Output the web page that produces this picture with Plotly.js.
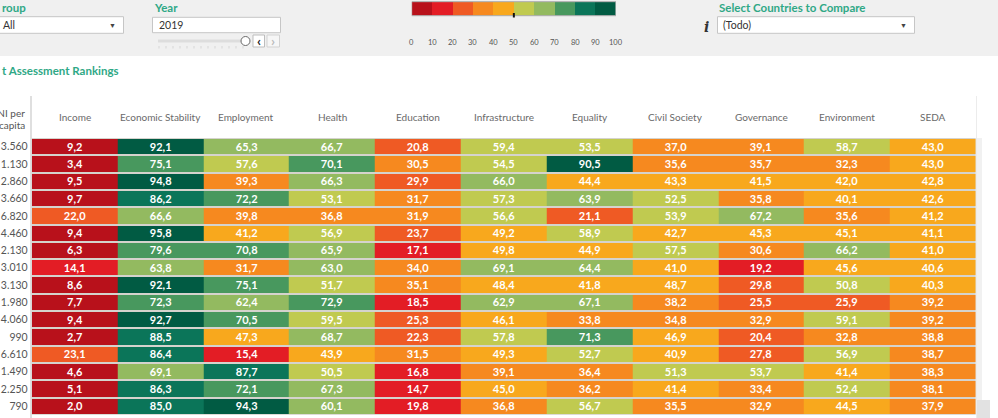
<!DOCTYPE html>
<html>
<head>
<meta charset="utf-8">
<script src="https://cdn.plot.ly/plotly-3.0.1.min.js"></script>
<style>
  html, body { margin: 0; padding: 0; background: #ffffff; }
  #chart { width: 998px; height: 418px; }
</style>
</head>
<body>
<div id="chart"></div>
<script>
// ---------------- DATA ----------------
const categories = ['Income', 'Economic Stability', 'Employment', 'Health', 'Education',
  'Infrastructure', 'Equality', 'Civil Society', 'Governance', 'Environment', 'SEDA'];

const gniPerCapita = [3560, 1130, 2860, 3660, 6820, 4460, 2130, 3010, 3130, 1980, 4060, 990, 6610, 1490, 2250, 790];

const income            = [9.2, 3.4, 9.5, 9.7, 22.0, 9.4, 6.3, 14.1, 8.6, 7.7, 9.4, 2.7, 23.1, 4.6, 5.1, 2.0];
const economicStability = [92.1, 75.1, 94.8, 86.2, 66.6, 95.8, 79.6, 63.8, 92.1, 72.3, 92.7, 88.5, 86.4, 69.1, 86.3, 85.0];
const employment        = [65.3, 57.6, 39.3, 72.2, 39.8, 41.2, 70.8, 31.7, 75.1, 62.4, 70.5, 47.3, 15.4, 87.7, 72.1, 94.3];
const health            = [66.7, 70.1, 66.3, 53.1, 36.8, 56.9, 65.9, 63.0, 51.7, 72.9, 59.5, 68.7, 43.9, 50.5, 67.3, 60.1];
const education         = [20.8, 30.5, 29.9, 31.7, 31.9, 23.7, 17.1, 34.0, 35.1, 18.5, 25.3, 22.3, 31.5, 16.8, 14.7, 19.8];
const infrastructure    = [59.4, 54.5, 66.0, 57.3, 56.6, 49.2, 49.8, 69.1, 48.4, 62.9, 46.1, 57.8, 49.3, 39.1, 45.0, 36.8];
const equality          = [53.5, 90.5, 44.4, 63.9, 21.1, 58.9, 44.9, 64.4, 41.8, 67.1, 33.8, 71.3, 52.7, 36.4, 36.2, 56.7];
const civilSociety      = [37.0, 35.6, 43.3, 52.5, 53.9, 42.7, 57.5, 41.0, 48.7, 38.2, 34.8, 46.9, 40.9, 51.3, 41.4, 35.5];
const governance        = [39.1, 35.7, 41.5, 35.8, 67.2, 45.3, 30.6, 19.2, 29.8, 25.5, 32.9, 20.4, 27.8, 53.7, 33.4, 32.9];
const environment       = [58.7, 32.3, 42.0, 40.1, 35.6, 45.1, 66.2, 45.6, 50.8, 25.9, 59.1, 32.8, 56.9, 41.4, 52.4, 44.5];
const seda              = [43.0, 43.0, 42.8, 42.6, 41.2, 41.1, 41.0, 40.6, 40.3, 39.2, 39.2, 38.8, 38.7, 38.3, 38.1, 37.9];

const legendTicks = [0, 10, 20, 30, 40, 50, 60, 70, 80, 90, 100];
const binColors = ['#b8111b', '#e31d25', '#ef5a24', '#f6891f', '#f8a81d',
  '#c0ca50', '#93ba60', '#48985e', '#0b7559', '#015b43'];

// ---------------- BUILD ----------------
const columns = [income, economicStability, employment, health, education,
  infrastructure, equality, civilSociety, governance, environment, seda];
const rowIdx = gniPerCapita.map((_, i) => i);
const z = rowIdx.map(r => columns.map(c => c[r]));

const colorscale = [];
binColors.forEach((c, i) => {
  colorscale.push([i / binColors.length, c]);
  colorscale.push([(i + 1) / binColors.length, c]);
});

const W = 998, H = 418;
const px = x => x / W;
const py = y => 1 - y / H;

const FONT = 'Lato, "Open Sans", sans-serif';
const TEAL = '#2fa886';

const fmtGni = v => v.toLocaleString('de-DE');

const mainHeat = {
  type: 'heatmap',
  x: categories,
  y: rowIdx,
  z: z,
  zmin: 0, zmax: 100,
  colorscale: colorscale,
  showscale: false,
  ygap: 2,
  xgap: 0,
  texttemplate: '<b>%{z:.1f}</b>',
  textfont: { family: FONT, size: 11, color: '#ffffff' },
  hoverinfo: 'skip',
  xaxis: 'x', yaxis: 'y'
};

const binCenters = legendTicks.slice(0, -1).map((t, i) => (t + legendTicks[i + 1]) / 2);
const legendHeat = {
  type: 'heatmap',
  x: binCenters,
  y: [0],
  z: [binCenters],
  zmin: 0, zmax: 100,
  colorscale: colorscale,
  showscale: false,
  hoverinfo: 'skip',
  xaxis: 'x2', yaxis: 'y2'
};

const shapes = [];
const annotations = [];
const rect = (x0, y0, x1, y1, fill, line, lw) => shapes.push({
  type: 'rect', xref: 'paper', yref: 'paper',
  x0: px(x0), x1: px(x1), y0: py(y1), y1: py(y0),
  fillcolor: fill, line: { color: line || 'rgba(0,0,0,0)', width: lw === undefined ? 1 : lw },
  layer: 'below'
});
const line = (x0, y0, x1, y1, color, w) => shapes.push({
  type: 'line', xref: 'paper', yref: 'paper',
  x0: px(x0), x1: px(x1), y0: py(y0), y1: py(y1),
  line: { color: color, width: w }
});
const text = (t, x, y, opts) => annotations.push(Object.assign({
  text: t, xref: 'paper', yref: 'paper', x: px(x), y: py(y),
  xanchor: 'left', yanchor: 'middle', showarrow: false,
  font: { family: FONT, size: 10.5, color: '#333333' }
}, opts || {}));

// top control panel
rect(0, 0, 998, 56, '#f0f0f0', null, 0);
rect(-2, 16.7, 123.5, 33.3, '#ffffff', '#c6c6c6', 1);
rect(152.5, 17.3, 280.5, 32.7, '#ffffff', '#c6c6c6', 1);
rect(717.5, 16.7, 914.5, 33.3, '#ffffff', '#c6c6c6', 1);
line(158, 41, 242, 41, '#dddddd', 3);
for (let k = 0; k < 13; k++) line(159 + 7 * k, 46, 159 + 7 * k, 48.5, '#d6d6d6', 1);
shapes.push({ type: 'circle', xref: 'paper', yref: 'paper',
  x0: px(241), x1: px(250), y0: py(45.5), y1: py(36.5),
  fillcolor: '#ffffff', line: { color: '#6a6a6a', width: 1 } });
shapes.push({ type: 'rect', xref: 'paper', yref: 'paper',
  x0: px(253), x1: px(264.5), y0: py(47), y1: py(35),
  fillcolor: '#ffffff', line: { color: '#bdbdbd', width: 1 } });
shapes.push({ type: 'rect', xref: 'paper', yref: 'paper',
  x0: px(267), x1: px(279.5), y0: py(47), y1: py(35),
  fillcolor: '#f6f6f6', line: { color: '#d2d2d2', width: 1 } });

// legend bar frame and marker
shapes.push({ type: 'rect', xref: 'x2', yref: 'y2 domain', x0: 0, x1: 100, y0: 0, y1: 1,
  line: { color: '#a9a9a9', width: 1 }, fillcolor: 'rgba(0,0,0,0)' });
shapes.push({ type: 'line', xref: 'x2', yref: 'paper', x0: 50, x1: 50, y0: py(17.5), y1: py(13),
  line: { color: '#111111', width: 2 } });

// table frame lines
line(31, 96, 31, 418, '#d4d4d4', 1.5);
line(976.5, 96, 976.5, 418, '#ececec', 1);
rect(977, 138, 982, 400, '#f1f1f1', null, 0);
rect(977, 400, 990, 418, '#e2e2e2', null, 0);

// texts of the top panel
const titleFont = { family: FONT, size: 11.5, color: TEAL, weight: 'bold' };
text('roup', 0, 7.5, { font: titleFont });
text('All', 1, 25);
text('▼', 112, 24.5, { xanchor: 'center', font: { family: FONT, size: 7, color: '#444444' } });
text('Year', 152, 7.5, { font: titleFont });
text('2019', 156.5, 25);
text('‹', 258.7, 40.5, { xanchor: 'center', font: { family: FONT, size: 14, color: '#222222', weight: 'bold' } });
text('›', 273.2, 40.5, { xanchor: 'center', font: { family: FONT, size: 14, color: '#bbbbbb', weight: 'bold' } });
text('Select Countries to Compare', 716.5, 7, { font: titleFont });
text('i', 706.5, 27.5, { xanchor: 'center', font: { family: '"DejaVu Serif", serif', size: 14, color: '#333333', weight: 'bold', style: 'italic' } });
text('(Todo)', 721, 25);
text('▼', 903, 24.5, { xanchor: 'center', font: { family: FONT, size: 7, color: '#444444' } });

legendTicks.forEach(t => annotations.push({
  text: String(t), xref: 'x2', yref: 'paper', x: t, y: py(42.3),
  xanchor: 'center', yanchor: 'middle', showarrow: false,
  font: { family: FONT, size: 7.5, color: '#555555' }
}));

// table title and headers
text('t Assessment Rankings', 0, 70.7, { font: titleFont });
text('GNI per', 27, 113, { xanchor: 'right', font: { family: FONT, size: 10, color: '#555555' } });
text('capita', 27, 124.5, { xanchor: 'right', font: { family: FONT, size: 10, color: '#555555' } });
categories.forEach(c => annotations.push({
  text: c, xref: 'x', yref: 'paper', x: c, y: py(116.7),
  xanchor: 'center', yanchor: 'middle', showarrow: false,
  font: { family: FONT, size: 10, color: '#6a6a6a' }
}));

const layout = {
  width: W, height: H,
  margin: { l: 0, r: 0, t: 0, b: 0, pad: 0 },
  paper_bgcolor: '#ffffff',
  plot_bgcolor: '#d5d3cd',
  separators: ',.',
  showlegend: false,
  xaxis: {
    domain: [px(31.7), px(975.7)],
    type: 'category',
    range: [-0.5, categories.length - 0.5],
    showticklabels: false, showgrid: false, zeroline: false, showline: false, ticks: '',
    fixedrange: true
  },
  yaxis: {
    domain: [py(414.8), py(138)],
    range: [gniPerCapita.length - 0.5, -0.5],
    tickmode: 'array',
    tickvals: rowIdx,
    ticktext: gniPerCapita.map(fmtGni),
    tickfont: { family: FONT, size: 10.5, color: '#555555' },
    ticks: '', showgrid: false, zeroline: false, showline: false,
    ticklabelstandoff: 3,
    fixedrange: true
  },
  xaxis2: {
    domain: [px(411.7), px(616)],
    range: [0, 100],
    anchor: 'y2',
    showticklabels: false, showgrid: false, zeroline: false, showline: false, ticks: '',
    fixedrange: true
  },
  yaxis2: {
    domain: [py(15.7), py(1.7)],
    range: [-0.5, 0.5],
    anchor: 'x2',
    showticklabels: false, showgrid: false, zeroline: false, showline: false, ticks: '',
    fixedrange: true
  },
  shapes: shapes,
  annotations: annotations
};

Plotly.newPlot('chart', [mainHeat, legendHeat], layout, { displayModeBar: false, staticPlot: true });
</script>
</body>
</html>
